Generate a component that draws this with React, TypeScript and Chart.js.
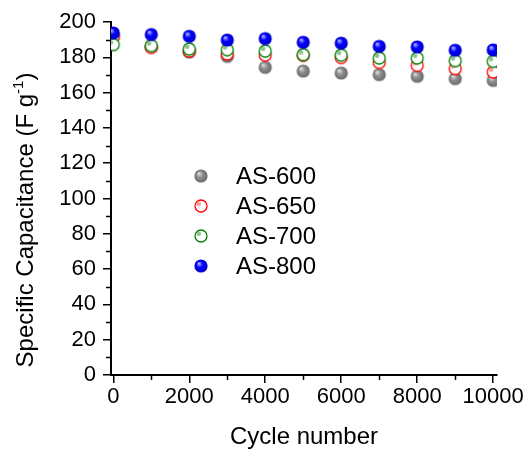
import React, { useEffect, useRef } from 'react';
import { Chart, registerables } from 'chart.js';
Chart.register(...registerables);

const cycles = [0, 1000, 2000, 3000, 4000, 5000, 6000, 7000, 8000, 9000, 10000];
const as600 = [192, 186, 183, 180.5, 174.3, 172.2, 171.1, 170.2, 169.2, 167.9, 166.9];
const as650 = [191.7, 185.6, 183.5, 181.9, 181.2, 181.1, 179.9, 177.1, 175.4, 173.6, 171.7];
const as700 = [187.2, 186.6, 184.7, 184.3, 183.5, 181.5, 181.2, 179.6, 179.6, 178.1, 177.7];
const as800 = [193.8, 192.9, 191.9, 189.8, 190.6, 188.5, 188.0, 186.2, 185.9, 184.0, 184.2];
const seriesNames = ['AS-600', 'AS-650', 'AS-700', 'AS-800'];
const xMajorTicks = [0, 2000, 4000, 6000, 8000, 10000];
const xMinorTicks = [1000, 3000, 5000, 7000, 9000];
const yMinorTicks = [10, 30, 50, 70, 90, 110, 130, 150, 170, 190];

const FONT = '"Liberation Sans", Arial, sans-serif';

function makeSphere(light: string, mid: string, dark: string, r = 6.6) {
  const c = document.createElement('canvas');
  c.width = 16; c.height = 16;
  const ctx = c.getContext('2d')!;
  const cx = 8, cy = 8;
  const g = ctx.createRadialGradient(cx - r * 0.35, cy - r * 0.4, r * 0.05, cx, cy, r);
  g.addColorStop(0, light);
  g.addColorStop(0.45, mid);
  g.addColorStop(1, dark);
  ctx.fillStyle = g;
  ctx.beginPath();
  ctx.arc(cx, cy, r, 0, Math.PI * 2);
  ctx.fill();
  return c;
}

function makeHollow(stroke: string, dot: string, r = 6) {
  const c = document.createElement('canvas');
  c.width = 16; c.height = 16;
  const ctx = c.getContext('2d')!;
  const cx = 8, cy = 8;
  ctx.fillStyle = '#ffffff';
  ctx.beginPath();
  ctx.arc(cx, cy, r, 0, Math.PI * 2);
  ctx.fill();
  ctx.strokeStyle = stroke;
  ctx.lineWidth = 1.3;
  ctx.stroke();
  ctx.fillStyle = dot;
  ctx.beginPath();
  ctx.arc(cx - 2.2, cy - 2.2, 2.3, 0, Math.PI * 2);
  ctx.fill();
  return c;
}

export default function App() {
  const ref = useRef<HTMLCanvasElement>(null);
  useEffect(() => {
    const canvas = ref.current!;
    const imgs = [
      makeSphere('#e0e0e0', '#8e8e8e', '#6a6a6a'),
      makeHollow('#ff0000', '#ff9c9c'),
      makeHollow('#008000', '#8cc48c'),
      makeSphere('#b8b8ff', '#0000ff', '#0000c8'),
    ];
    const series = [as600, as650, as700, as800];
    const orders = [3, 2, 1, 0];

    const extras = {
      id: 'extras',
      afterDraw(chart: any) {
        const ctx = chart.ctx;
        const xs = chart.scales.x;
        const ys = chart.scales.y;
        ctx.save();
        ctx.strokeStyle = '#000';
        ctx.lineWidth = 1.5;
        // minor ticks
        yMinorTicks.forEach((v) => {
          const y = Math.round(ys.getPixelForValue(v)) + 0.5;
          ctx.beginPath();
          ctx.moveTo(ys.right, y);
          ctx.lineTo(ys.right - 5, y);
          ctx.stroke();
        });
        xMinorTicks.forEach((v) => {
          const x = Math.round(xs.getPixelForValue(v)) + 0.5;
          ctx.beginPath();
          ctx.moveTo(x, xs.top);
          ctx.lineTo(x, xs.top + 5);
          ctx.stroke();
        });
        // y title with superscript
        ctx.fillStyle = '#000';
        const main = 'Specific Capacitance (F g';
        const sup = '-1';
        const tail = ')';
        ctx.font = `24px ${FONT}`;
        const w1 = ctx.measureText(main).width;
        const w3 = ctx.measureText(tail).width;
        ctx.font = `15px ${FONT}`;
        const w2 = ctx.measureText(sup).width;
        const total = w1 + w2 + w3;
        ctx.translate(33, 220);
        ctx.rotate(-Math.PI / 2);
        ctx.textBaseline = 'alphabetic';
        ctx.textAlign = 'left';
        const x0 = -total / 2;
        ctx.font = `24px ${FONT}`;
        ctx.fillText(main, x0, 0);
        ctx.font = `15px ${FONT}`;
        ctx.fillText(sup, x0 + w1, -10);
        ctx.font = `24px ${FONT}`;
        ctx.fillText(tail, x0 + w1 + w2, 0);
        ctx.restore();
        // legend
        ctx.save();
        ctx.font = `24px ${FONT}`;
        ctx.fillStyle = '#000';
        ctx.textBaseline = 'middle';
        ctx.textAlign = 'left';
        seriesNames.forEach((name, i) => {
          const y = 176 + 30 * i;
          const im = imgs[i];
          ctx.drawImage(im, 201 - im.width / 2, y - im.height / 2);
          ctx.fillText(name, 236, y + 1);
        });
        ctx.restore();
      },
    };

    const chart = new Chart(canvas, {
      type: 'scatter',
      data: {
        datasets: seriesNames.map((name, i) => ({
          label: name,
          data: cycles.map((c, j) => ({ x: c, y: series[i][j] })),
          pointStyle: imgs[i] as any,
          pointRadius: 7,
          order: orders[i],
          showLine: false,
        })),
      },
      options: {
        responsive: false,
        animation: false,
        events: [],
        layout: { padding: { left: 0, right: 35, top: 22, bottom: 0 } },
        plugins: { legend: { display: false }, tooltip: { enabled: false } },
        scales: {
          x: {
            type: 'linear',
            min: -60,
            max: 10100,
            afterBuildTicks: (s: any) => {
              s.ticks = xMajorTicks.map((v) => ({ value: v }));
            },
            afterFit: (s: any) => {
              s.height = 77;
            },
            grid: { drawOnChartArea: false, drawTicks: true, tickLength: 8, color: '#000', lineWidth: 1.5 },
            border: { display: true, color: '#000', width: 2 },
            ticks: {
              autoSkip: false,
              maxRotation: 0,
              padding: 1,
              color: '#000',
              font: { family: FONT, size: 22 },
              callback: (v: any) => String(v),
            },
            title: { display: true, text: 'Cycle number', color: '#000', font: { family: FONT, size: 24 }, padding: { top: 0, bottom: 0 } },
          },
          y: {
            type: 'linear',
            min: 0,
            max: 200,
            ticks: { stepSize: 20, padding: 7, color: '#000', font: { family: FONT, size: 22 }, callback: (v: any) => String(v) },
            afterFit: (s: any) => {
              s.width = 111;
            },
            grid: { drawOnChartArea: false, drawTicks: true, tickLength: 8, color: '#000', lineWidth: 1.5 },
            border: { display: true, color: '#000', width: 2 },
          },
        },
      },
      plugins: [extras],
    });
    return () => chart.destroy();
  }, []);
  return (
    <div style={{ position: 'fixed', left: 0, top: 0, width: 532, height: 452, background: '#fff' }}>
      <canvas ref={ref} width={532} height={452} />
    </div>
  );
}
